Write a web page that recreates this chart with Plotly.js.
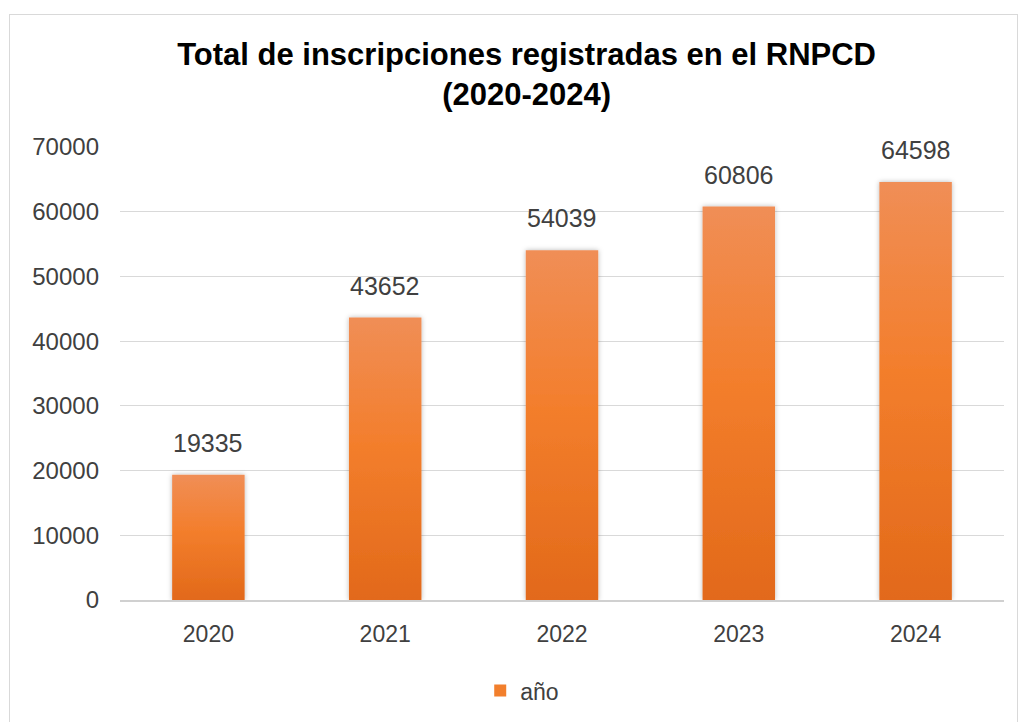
<!DOCTYPE html>
<html>
<head>
<meta charset="utf-8">
<script src="https://cdn.plot.ly/plotly-3.0.1.min.js"></script>
<style>
html,body{margin:0;padding:0;background:#fff;width:1022px;height:722px;overflow:hidden;}
#frame{position:absolute;left:9px;top:14px;width:1009px;height:710px;border:1px solid #d9d9d9;box-sizing:border-box;}
#chart{width:1007px;height:708px;}
</style>
</head>
<body>
<div id="frame"><div id="chart"></div></div>
<script>
const years = ['2020','2021','2022','2023','2024'];
const inscripciones = [19335, 43652, 54039, 60806, 64598];
const seriesName = 'año';
const chartTitle = '<b>Total de inscripciones registradas en el RNPCD<br>(2020-2024)</b>';

const trace = {
  type: 'bar',
  x: years,
  y: inscripciones,
  name: seriesName,
  marker: {color: '#F27F2C', line: {width: 0}},
  hoverinfo: 'x+y',
  showlegend: true
};

const annotations = years.map((yr, i) => ({
  x: i, y: inscripciones[i], xref: 'x', yref: 'y',
  text: String(inscripciones[i]), showarrow: false,
  yanchor: 'bottom', yshift: 16,
  font: {family: 'Liberation Sans, Arial, sans-serif', size: 25, color: '#404040'}
}));

const layout = {
  width: 1007, height: 708,
  margin: {l: 110, r: 13, t: 132, b: 122},
  paper_bgcolor: '#ffffff', plot_bgcolor: '#ffffff',
  font: {family: 'Liberation Sans, Arial, sans-serif', color: '#404040'},
  title: {
    text: chartTitle,
    x: 0.513, xref: 'container', xanchor: 'center',
    y: 0.93, yref: 'container', yanchor: 'middle',
    font: {family: 'Liberation Sans, Arial, sans-serif', size: 31, color: '#000000'}
  },
  bargap: 0.59,
  xaxis: {
    type: 'category',
    range: [-0.5, 4.5],
    showgrid: false,
    showline: true, linecolor: '#d0d0d0', linewidth: 2,
    ticks: '', tickfont: {size: 23, color: '#404040'},
    ticklabelstandoff: 12
  },
  yaxis: {
    range: [0, 70000], dtick: 10000, tick0: 0,
    showgrid: true, gridcolor: '#d9d9d9', gridwidth: 1,
    zeroline: false, showline: false, ticks: '',
    tickfont: {size: 24, color: '#404040'},
    ticklabelstandoff: 20,
    tickformat: 'd'
  },
  legend: {
    orientation: 'h', x: 0.455, xanchor: 'center', y: -0.15, yanchor: 'top',
    font: {size: 23, color: '#404040'},
    itemwidth: 30
  },
  annotations: annotations
};

function applyGradient(gd){
  const svg = gd.querySelector('svg.main-svg');
  if (!svg) return;
  const ns = 'http://www.w3.org/2000/svg';
  let defs = svg.querySelector('defs');
  if (!defs){ defs = document.createElementNS(ns,'defs'); svg.insertBefore(defs, svg.firstChild); }
  if (!svg.querySelector('#barGrad')){
    const lg = document.createElementNS(ns,'linearGradient');
    lg.setAttribute('id','barGrad'); lg.setAttribute('x1','0'); lg.setAttribute('y1','0');
    lg.setAttribute('x2','0'); lg.setAttribute('y2','1');
    [['0%','#F08E56'],['45%','#F37E2C'],['100%','#E2691A']].forEach(([o,c])=>{
      const s = document.createElementNS(ns,'stop'); s.setAttribute('offset',o); s.setAttribute('stop-color',c); lg.appendChild(s);
    });
    defs.appendChild(lg);
    const f = document.createElementNS(ns,'filter');
    f.setAttribute('id','barShadow'); f.setAttribute('x','-20%'); f.setAttribute('y','-10%');
    f.setAttribute('width','140%'); f.setAttribute('height','120%');
    const ds = document.createElementNS(ns,'feDropShadow');
    ds.setAttribute('dx','0'); ds.setAttribute('dy','0'); ds.setAttribute('stdDeviation','2.5');
    ds.setAttribute('flood-color','#000'); ds.setAttribute('flood-opacity','0.28');
    f.appendChild(ds); defs.appendChild(f);
  }
  gd.querySelectorAll('.barlayer .point path').forEach(p=>{
    p.style.fill = 'url(#barGrad)';
    p.setAttribute('filter','url(#barShadow)');
  });
}

const gd = document.getElementById('chart');
Plotly.newPlot(gd, [trace], layout, {displayModeBar: false, staticPlot: true}).then(()=>applyGradient(gd));
</script>
</body>
</html>
